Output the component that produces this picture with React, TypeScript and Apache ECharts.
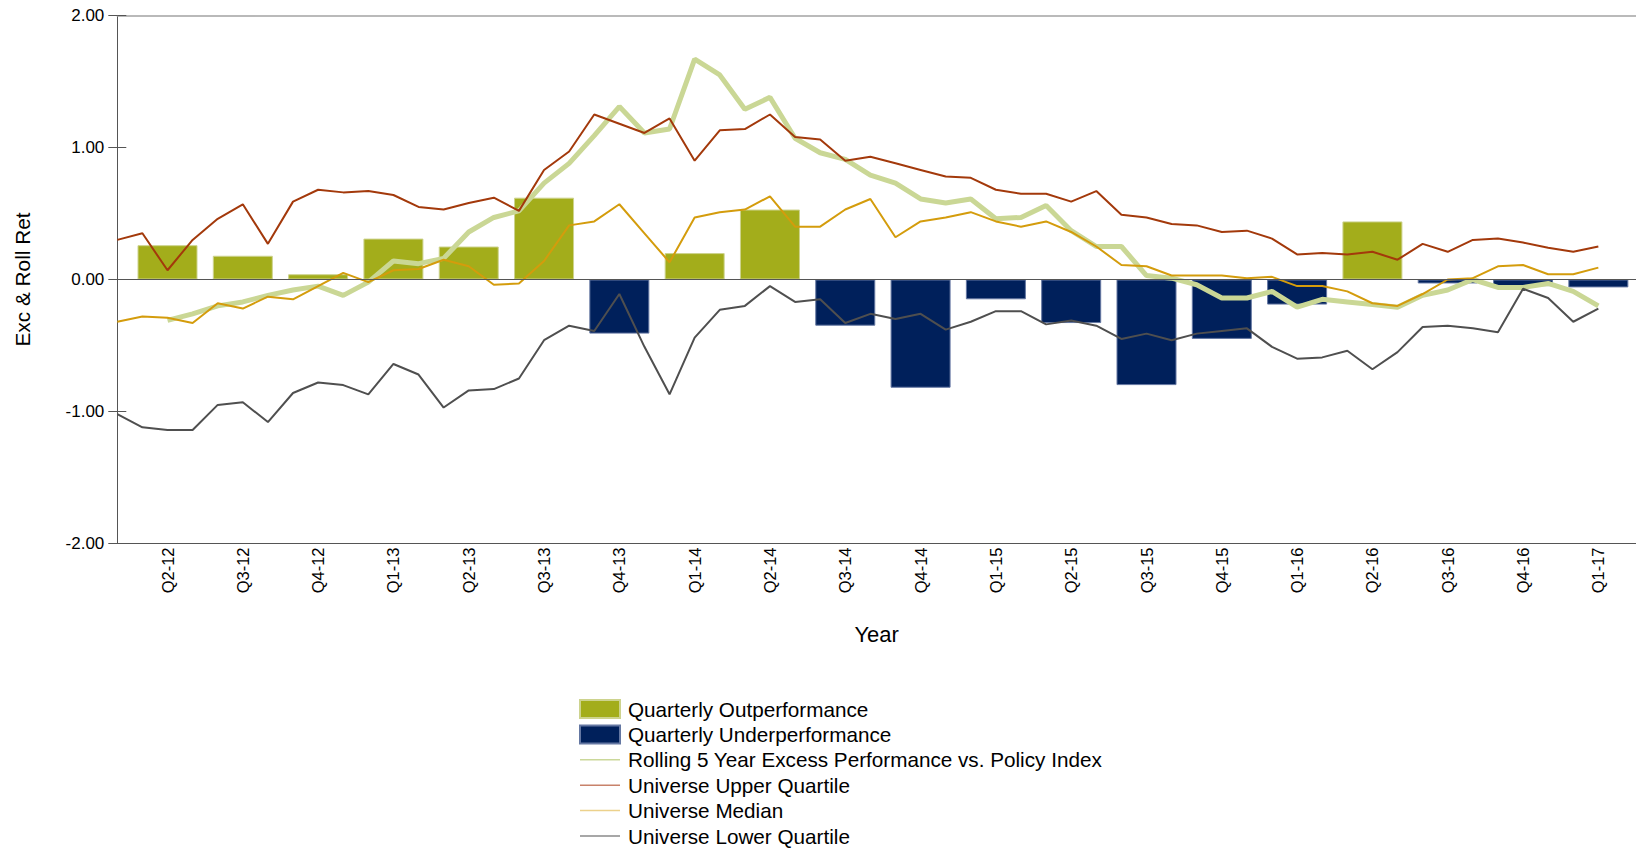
import React, { useEffect, useRef } from "react";
import * as echarts from "echarts";

// Quarter labels (one bar per quarter)
const quarters = [
  "Q2-12", "Q3-12", "Q4-12", "Q1-13", "Q2-13", "Q3-13", "Q4-13", "Q1-14", "Q2-14", "Q3-14",
  "Q4-14", "Q1-15", "Q2-15", "Q3-15", "Q4-15", "Q1-16", "Q2-16", "Q3-16", "Q4-16", "Q1-17",
];

// Quarterly excess return (positive = outperformance, negative = underperformance)
const quarterlyExcess = [
  0.26, 0.18, 0.04, 0.31, 0.25, 0.62, -0.41, 0.2, 0.53, -0.35,
  -0.82, -0.15, -0.33, -0.8, -0.45, -0.19, 0.44, -0.03, -0.05, -0.06,
];

// Monthly series (Apr-12 .. Mar-17), quarter ends fall on index 2, 5, 8, ...
const rolling5Yr: (number | null)[] = [
  null, null, -0.31, -0.26, -0.2, -0.17, -0.12, -0.08, -0.05, -0.12,
  -0.02, 0.14, 0.12, 0.16, 0.36, 0.47, 0.52, 0.73, 0.88, 1.09,
  1.31, 1.11, 1.14, 1.67, 1.55, 1.29, 1.38, 1.07, 0.96, 0.91,
  0.79, 0.73, 0.61, 0.58, 0.61, 0.46, 0.47, 0.56, 0.37, 0.25,
  0.25, 0.03, 0.01, -0.04, -0.14, -0.14, -0.09, -0.21, -0.15, -0.17,
  -0.19, -0.21, -0.12, -0.08, 0.0, -0.06, -0.06, -0.03, -0.09, -0.2,
];

const upperQuartile = [
  0.3, 0.35, 0.07, 0.3, 0.46, 0.57, 0.27, 0.59, 0.68, 0.66,
  0.67, 0.64, 0.55, 0.53, 0.58, 0.62, 0.52, 0.83, 0.97, 1.25,
  1.18, 1.11, 1.22, 0.9, 1.13, 1.14, 1.25, 1.08, 1.06, 0.9,
  0.93, 0.88, 0.83, 0.78, 0.77, 0.68, 0.65, 0.65, 0.59, 0.67,
  0.49, 0.47, 0.42, 0.41, 0.36, 0.37, 0.31, 0.19, 0.2, 0.19,
  0.21, 0.15, 0.27, 0.21, 0.3, 0.31, 0.28, 0.24, 0.21, 0.25,
];

const universeMedian = [
  -0.32, -0.28, -0.29, -0.33, -0.18, -0.22, -0.13, -0.15, -0.05, 0.05,
  -0.02, 0.07, 0.08, 0.15, 0.1, -0.04, -0.03, 0.14, 0.41, 0.44,
  0.57, 0.35, 0.13, 0.47, 0.51, 0.53, 0.63, 0.4, 0.4, 0.53,
  0.61, 0.32, 0.44, 0.47, 0.51, 0.44, 0.4, 0.44, 0.36, 0.25,
  0.11, 0.1, 0.03, 0.03, 0.03, 0.01, 0.02, -0.05, -0.05, -0.09,
  -0.18, -0.2, -0.11, 0.0, 0.01, 0.1, 0.11, 0.04, 0.04, 0.09,
];

const lowerQuartile = [
  -1.02, -1.12, -1.14, -1.14, -0.95, -0.93, -1.08, -0.86, -0.78, -0.8,
  -0.87, -0.64, -0.72, -0.97, -0.84, -0.83, -0.75, -0.46, -0.35, -0.39,
  -0.11, -0.51, -0.87, -0.44, -0.23, -0.2, -0.05, -0.17, -0.15, -0.33,
  -0.26, -0.3, -0.26, -0.38, -0.32, -0.24, -0.24, -0.34, -0.31, -0.35,
  -0.45, -0.41, -0.46, -0.41, -0.39, -0.37, -0.51, -0.6, -0.59, -0.54,
  -0.68, -0.55, -0.36, -0.35, -0.37, -0.4, -0.07, -0.14, -0.32, -0.22,
];

const seriesNames = {
  out: "Quarterly Outperformance",
  under: "Quarterly Underperformance",
  rolling: "Rolling 5 Year Excess Performance vs. Policy Index",
  upper: "Universe Upper Quartile",
  median: "Universe Median",
  lower: "Universe Lower Quartile",
};

const FONT = "'Liberation Sans', Arial, Helvetica, sans-serif";

export default function App() {
  const ref = useRef<HTMLDivElement>(null);

  useEffect(() => {
    if (!ref.current) return;
    const chart = echarts.init(ref.current, null, { renderer: "svg" });

    const monthOfQuarter = (q: number) => q * 3 + 2;
    const toPoints = (arr: (number | null)[]) =>
      arr.map((v, i) => [i, v]).filter((p) => p[1] !== null);

    const outData = quarterlyExcess
      .map((v, q) => (v >= 0 ? [monthOfQuarter(q), v] : null))
      .filter(Boolean);
    const underData = quarterlyExcess
      .map((v, q) => (v < 0 ? [monthOfQuarter(q), v] : null))
      .filter(Boolean);

    const quarterLabel = (v: number) => {
      const r = Math.round(v);
      if (Math.abs(r - v) > 1e-6) return "";
      const q = (r - 2) / 3;
      return Number.isInteger(q) && q >= 0 && q < quarters.length ? quarters[q] : "";
    };

    const hiddenSymbol = { opacity: 0 };

    const option: any = {
      animation: false,
      textStyle: { fontFamily: FONT },
      grid: { left: 117.3, right: 0, top: 15.5, bottom: 304.5, containLabel: false },
      xAxis: [
        {
          type: "value",
          min: 0,
          max: 60.5,
          interval: 1,
          position: "bottom",
          name: "Year",
          nameLocation: "middle",
          nameGap: 80,
          nameTextStyle: { fontSize: 22, color: "#000", fontFamily: FONT },
          axisLine: { show: true, onZero: false, lineStyle: { color: "#555", width: 1 } },
          axisTick: { show: false },
          splitLine: { show: false },
          axisLabel: {
            rotate: 90,
            margin: 4,
            fontSize: 16.5,
            color: "#000",
            fontFamily: FONT,
            formatter: quarterLabel,
          },
        },
        {
          type: "value",
          min: 0,
          max: 60.5,
          position: "top",
          axisLine: { show: true, onZero: false, lineStyle: { color: "#a3a3a3", width: 1.5 } },
          axisTick: { show: false },
          axisLabel: { show: false },
          splitLine: { show: false },
        },
      ],
      yAxis: [
        {
          type: "value",
          min: -2,
          max: 2,
          interval: 1,
          position: "left",
          name: "Exc & Roll Ret",
          nameLocation: "middle",
          nameGap: 84,
          nameTextStyle: { fontSize: 20.8, color: "#000", fontFamily: FONT },
          axisLine: { show: true, onZero: false, lineStyle: { color: "#555", width: 1 } },
          axisTick: { show: true, length: 9, lineStyle: { color: "#555" } },
          axisLabel: {
            fontSize: 17,
            color: "#000",
            margin: 13,
            fontFamily: FONT,
            formatter: (v: number) => v.toFixed(2),
          },
          splitLine: { show: false },
        },
        {
          type: "value",
          min: -2,
          max: 2,
          interval: 1,
          position: "left",
          offset: 0,
          axisLine: { show: false },
          axisTick: { show: true, inside: true, length: 9, lineStyle: { color: "#555" } },
          axisLabel: { show: false },
          splitLine: { show: false },
        },
      ],
      legend: {
        orient: "vertical",
        left: 579,
        top: 698.5,
        height: 200,
        padding: 0,
        itemWidth: 40,
        itemHeight: 18,
        itemGap: 4.4,
        textStyle: { fontSize: 20.7, color: "#000", fontFamily: FONT, padding: [0, 0, 0, 3] },
        lineStyle: { width: 1.5 },
        data: [
          { name: seriesNames.out, icon: "rect" },
          { name: seriesNames.under, icon: "rect" },
          { name: seriesNames.rolling, itemStyle: hiddenSymbol, lineStyle: { color: "#cbd89a", width: 1.5 } },
          { name: seriesNames.upper, itemStyle: hiddenSymbol, lineStyle: { color: "#c8826a", width: 1.5 } },
          { name: seriesNames.median, itemStyle: hiddenSymbol, lineStyle: { color: "#ecd18c", width: 1.5 } },
          { name: seriesNames.lower, itemStyle: hiddenSymbol, lineStyle: { color: "#8a8a8a", width: 1.5 } },
        ],
      },
      series: [
        {
          type: "bar",
          name: seriesNames.out,
          data: outData,
          stack: "quarterly",
          barWidth: 60,
          itemStyle: { color: "#a3ad1b", borderColor: "#cdd38e", borderWidth: 1 },
          markLine: {
            silent: true,
            symbol: "none",
            label: { show: false },
            lineStyle: { color: "#555", width: 1, type: "solid" },
            data: [{ yAxis: 0 }],
          },
        },
        {
          type: "bar",
          name: seriesNames.under,
          data: underData,
          stack: "quarterly",
          barWidth: 60,
          itemStyle: { color: "#00205b", borderColor: "#6477a2", borderWidth: 1 },
        },
        {
          type: "line",
          name: seriesNames.rolling,
          data: toPoints(rolling5Yr),
          symbol: "none",
          lineStyle: { color: "#cad795", width: 5 },
          itemStyle: { color: "#cad795" },
        },
        {
          type: "line",
          name: seriesNames.upper,
          data: toPoints(upperQuartile),
          symbol: "none",
          lineStyle: { color: "#a3390b", width: 2 },
          itemStyle: { color: "#a3390b" },
        },
        {
          type: "line",
          name: seriesNames.median,
          data: toPoints(universeMedian),
          symbol: "none",
          lineStyle: { color: "#d49c0c", width: 2 },
          itemStyle: { color: "#d49c0c" },
        },
        {
          type: "line",
          name: seriesNames.lower,
          data: toPoints(lowerQuartile),
          symbol: "none",
          lineStyle: { color: "#4f4f4f", width: 2 },
          itemStyle: { color: "#4f4f4f" },
        },
      ],
    };

    chart.setOption(option);
    return () => chart.dispose();
  }, []);

  return (
    <div
      ref={ref}
      style={{ position: "fixed", left: 0, top: 0, width: 1636, height: 848, background: "#fff" }}
    />
  );
}
